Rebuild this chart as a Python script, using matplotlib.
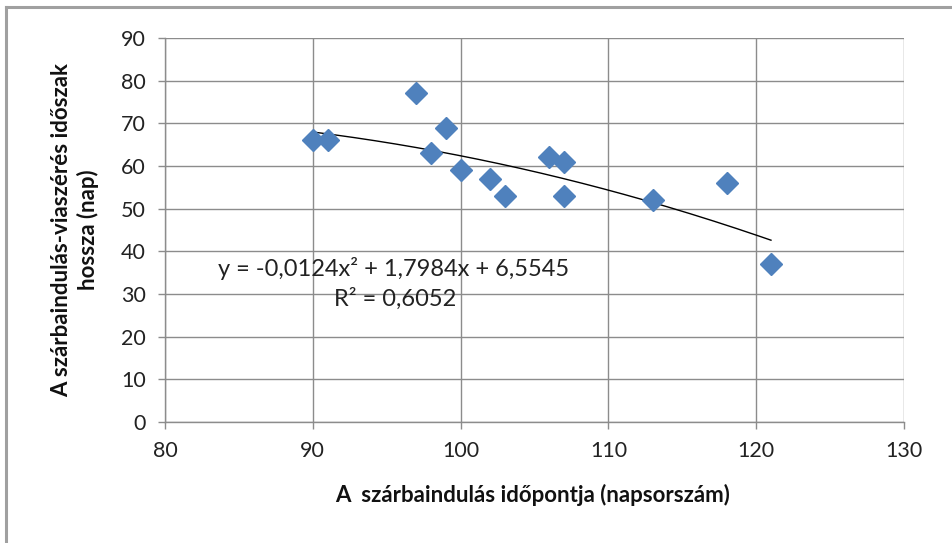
import numpy as np
import matplotlib
matplotlib.use("Agg")
import matplotlib.pyplot as plt
from matplotlib.lines import Line2D

plt.rcParams['font.family'] = ['Lato', 'DejaVu Sans']

# Data
start_day = [90, 91, 97, 98, 99, 100, 102, 103, 106, 107, 107, 113, 118, 121]
duration = [66, 66, 77, 63, 69, 59, 57, 53, 62, 61, 53, 52, 56, 37]
trend_coef = [-0.0124, 1.7984, 6.5545]
x_ticks = [80, 90, 100, 110, 120, 130]
y_ticks = [0, 10, 20, 30, 40, 50, 60, 70, 80, 90]
equation = "y = -0,0124x\u00b2 + 1,7984x + 6,5545"
r2_text = "R\u00b2 = 0,6052"
x_label = "A  szárbaindulás időpontja (napsorszám)"
y_label = "A szárbaindulás-viaszérés időszak\nhossza (nap)"

W, H = 952, 543
fig = plt.figure(figsize=(9.52, 5.43), dpi=100)
ax = fig.add_axes([165/W, 1-422/H, (904-165)/W, (422-38)/H])

grid_c = '#8c8c8c'
ax.set_xlim(80, 130)
ax.set_ylim(0, 90)
ax.set_xticks(x_ticks)
ax.set_yticks(y_ticks)
ax.grid(True, color=grid_c, linewidth=1.0)
ax.set_axisbelow(True)
for s in ['top', 'right']:
    ax.spines[s].set_visible(False)
for s in ['left', 'bottom']:
    ax.spines[s].set_color(grid_c)
    ax.spines[s].set_linewidth(1.0)
ax.tick_params(axis='both', colors=grid_c, labelcolor='#222222', labelsize=15.5,
               length=5, width=1.0, direction='out')
ax.tick_params(axis='x', pad=9)
ax.tick_params(axis='y', pad=9)

xs = np.linspace(min(start_day), max(start_day), 200)
ax.plot(xs, np.polyval(trend_coef, xs), color='black', linewidth=1.0, zorder=2)
ax.plot(start_day, duration, linestyle='none', marker='D', markersize=11,
        color='#4F81BD', markeredgecolor='#4F81BD', zorder=3)

fig.text(394/W, 1-268/H, equation, ha='center', va='center', fontsize=17, color='#222222')
fig.text(395/W, 1-299/H, r2_text, ha='center', va='center', fontsize=17, color='#222222')

fig.text(533/W, 1-495/H, x_label, ha='center', va='center', fontsize=16,
         fontweight='bold', color='#111111')
fig.text(75/W, 1-230/H, y_label, ha='center', va='center', rotation=90,
         fontsize=16, fontweight='bold', color='#111111', linespacing=1.25)

# outer frame (top and left)
fig.add_artist(Line2D([6/W, 1], [1-7/H, 1-7/H], transform=fig.transFigure,
                      color='#a0a0a0', linewidth=2.2))
fig.add_artist(Line2D([6/W, 6/W], [0, 1-7/H], transform=fig.transFigure,
                      color='#a0a0a0', linewidth=2.2))

fig.savefig('out.png', dpi=100)
